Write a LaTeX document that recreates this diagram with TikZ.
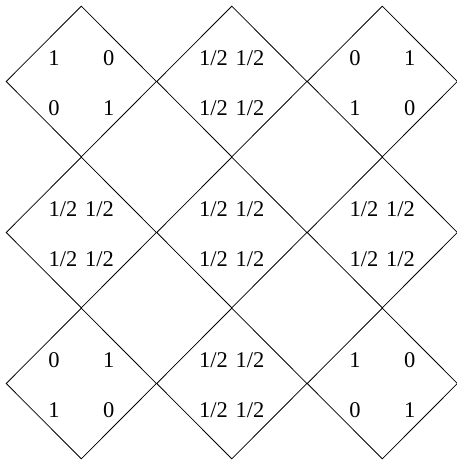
\documentclass[tikz,border=0pt]{standalone}
\usepackage{fontspec}
\setmainfont{Liberation Serif}
\usetikzlibrary{shapes.geometric}
\newcommand{\hlf}{1/2}

\begin{document}
\begin{tikzpicture}[x=1pt, y=1pt,
    cell/.style={draw, diamond, line width=0.8pt, minimum width=150.5pt, minimum height=151pt, inner sep=0pt},
    entry/.style={anchor=base, inner sep=0pt, font=\fontsize{22.5}{27}\selectfont}]
  \useasboundingbox (0,0) rectangle (457,461);
  % 3x3 grid of diamonds, each holding a 2x2 table
  \foreach \r/\c/\a/\b/\p/\q/\dx in {
      0/0/1/0/0/1/27.4, 0/1/\hlf/\hlf/\hlf/\hlf/18.3, 0/2/0/1/1/0/27.4,
      1/0/\hlf/\hlf/\hlf/\hlf/18.3, 1/1/\hlf/\hlf/\hlf/\hlf/18.3, 1/2/\hlf/\hlf/\hlf/\hlf/18.3,
      2/0/0/1/1/0/27.4, 2/1/\hlf/\hlf/\hlf/\hlf/18.3, 2/2/1/0/0/1/27.4} {
    \node[cell] (cell-\r-\c) at ({81.3+150.5*\c}, {379.5-151*\r}) {};
    \node[entry, xshift=-\dx, yshift=15.8] (e-\r-\c-a) at (cell-\r-\c.center) {\a};
    \node[entry, xshift=\dx, yshift=15.8] (e-\r-\c-b) at (cell-\r-\c.center) {\b};
    \node[entry, xshift=-\dx, yshift=-34.4] (e-\r-\c-p) at (cell-\r-\c.center) {\p};
    \node[entry, xshift=\dx, yshift=-34.4] (e-\r-\c-q) at (cell-\r-\c.center) {\q};
  }
\end{tikzpicture}
\end{document}
